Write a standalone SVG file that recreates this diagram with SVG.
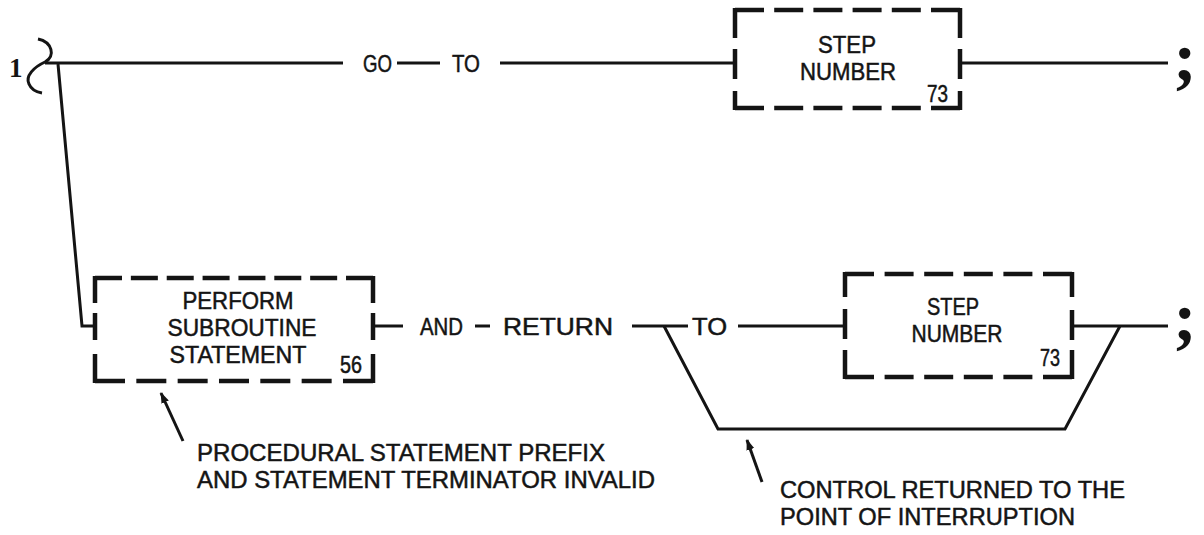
<svg xmlns="http://www.w3.org/2000/svg" width="1204" height="535" viewBox="0 0 1204 535">
<defs>
<style>
.ln{stroke:#141414;stroke-width:3;fill:none;stroke-linecap:butt;stroke-linejoin:miter}
.bx{stroke:#141414;stroke-width:4.5;fill:none}
.t{font-family:"Liberation Sans",Arial,sans-serif;font-size:24px;fill:#141414;stroke:#141414;stroke-width:0.5}
.n{font-family:"Liberation Sans",Arial,sans-serif;font-size:23px;fill:#141414;stroke:#141414;stroke-width:0.5}
.semi{font-family:"Liberation Serif","Times New Roman",serif;font-size:70px;font-weight:bold;fill:#141414}
</style>
<marker id="ah" markerWidth="11" markerHeight="11" refX="10" refY="5.5" orient="auto" markerUnits="userSpaceOnUse">
<path d="M0,1.5 L11,5.5 L0,9.5 Z" fill="#141414"/>
</marker>
</defs>
<rect width="1204" height="535" fill="#ffffff"/>

<g id="start">
<text x="9" y="77" font-family="Liberation Serif, serif" font-size="27" font-weight="bold" fill="#141414">1</text>
<path class="ln" d="M38,39 C52,42 56,56 45,62 C34,67 25,76 29,84 C31,89 36,92 42,93"/>
</g>

<g id="connectors">
<path class="ln" d="M45,63 H343"/>
<path class="ln" d="M397,63 H440"/>
<path class="ln" d="M500,63 H735"/>
<path class="ln" d="M960,63 H1168"/>
<path class="ln" d="M58,64 L82,326 H95"/>
<path class="ln" d="M373,326 H403"/>
<path class="ln" d="M475,326 H490"/>
<path class="ln" d="M632,326 H688"/>
<path class="ln" d="M738,326 H845"/>
<path class="ln" d="M1072,326 H1168"/>
<path class="ln" d="M664,326 L718,429 H1065 L1120,326"/>
<path class="ln" d="M183,441 L161,393" marker-end="url(#ah)"/>
<path class="ln" d="M762,482 L747,440" marker-end="url(#ah)"/>
</g>

<g id="label-goto">
<text class="t" x="363" y="72" textLength="29" lengthAdjust="spacingAndGlyphs">GO</text>
<text class="t" x="452" y="72" textLength="28" lengthAdjust="spacingAndGlyphs">TO</text>
</g>

<g id="step-number-top">
<path class="bx" d="M735,10 H960" stroke-dasharray="29 10.2"/>
<path class="bx" d="M735,108 H960" stroke-dasharray="29 10.2"/>
<path class="bx" d="M735,8 V38 M735,49 V79 M735,91 V110"/>
<path class="bx" d="M960,8 V38 M960,49 V79 M960,91 V110"/>
<text class="t" x="847" y="53" text-anchor="middle" textLength="58" lengthAdjust="spacingAndGlyphs">STEP</text>
<text class="t" x="848" y="80" text-anchor="middle" textLength="96" lengthAdjust="spacingAndGlyphs">NUMBER</text>
<text class="n" x="927" y="102" textLength="21" lengthAdjust="spacingAndGlyphs">73</text>
</g>

<g id="end-top">
<text class="semi" x="1185" y="80" text-anchor="middle">;</text>
</g>

<g id="perform-subroutine">
<path class="bx" d="M95,278 H373" stroke-dasharray="27 8.86"/>
<path class="bx" d="M95,381 H373" stroke-dasharray="30 11.33"/>
<path class="bx" d="M95,276 V303 M95,313 V340 M95,354 V383"/>
<path class="bx" d="M373,276 V303 M373,313 V340 M373,354 V383"/>
<text class="t" x="238" y="309" text-anchor="middle" textLength="111" lengthAdjust="spacingAndGlyphs">PERFORM</text>
<text class="t" x="242" y="336" text-anchor="middle" textLength="149" lengthAdjust="spacingAndGlyphs">SUBROUTINE</text>
<text class="t" x="238" y="363" text-anchor="middle" textLength="137" lengthAdjust="spacingAndGlyphs">STATEMENT</text>
<text class="n" x="340" y="373" textLength="22" lengthAdjust="spacingAndGlyphs">56</text>
</g>

<g id="label-and-return">
<text class="t" x="420" y="335" textLength="43" lengthAdjust="spacingAndGlyphs">AND</text>
<text class="t" x="503" y="335" textLength="110" lengthAdjust="spacingAndGlyphs">RETURN</text>
<text class="t" x="692" y="335" textLength="35" lengthAdjust="spacingAndGlyphs">TO</text>
</g>

<g id="step-number-bottom">
<path class="bx" d="M845,274 H1072" stroke-dasharray="29 10.6"/>
<path class="bx" d="M845,377 H1072" stroke-dasharray="29 10.6"/>
<path class="bx" d="M845,272 V297 M845,309 V339 M845,350 V379"/>
<path class="bx" d="M1072,272 V297 M1072,310 V340 M1072,350 V379"/>
<text class="t" x="953" y="315" text-anchor="middle" textLength="52" lengthAdjust="spacingAndGlyphs">STEP</text>
<text class="t" x="957" y="342" text-anchor="middle" textLength="91" lengthAdjust="spacingAndGlyphs">NUMBER</text>
<text class="n" x="1040" y="366" textLength="20" lengthAdjust="spacingAndGlyphs">73</text>
</g>

<g id="end-bottom">
<text class="semi" x="1185" y="340" text-anchor="middle">;</text>
</g>

<g id="note-prefix">
<text class="t" x="197" y="461" textLength="408" lengthAdjust="spacingAndGlyphs">PROCEDURAL STATEMENT PREFIX</text>
<text class="t" x="197" y="488" textLength="458" lengthAdjust="spacingAndGlyphs">AND STATEMENT TERMINATOR INVALID</text>
</g>

<g id="note-control">
<text class="t" x="780" y="498" textLength="345" lengthAdjust="spacingAndGlyphs">CONTROL RETURNED TO THE</text>
<text class="t" x="780" y="525" textLength="295" lengthAdjust="spacingAndGlyphs">POINT OF INTERRUPTION</text>
</g>
</svg>
